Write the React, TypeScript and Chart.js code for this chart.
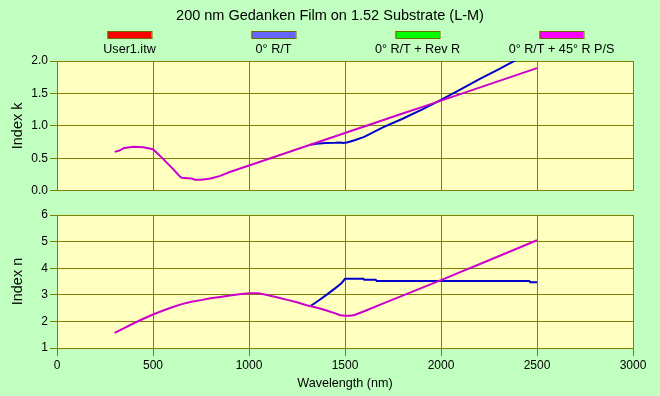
import React, { useEffect, useRef } from 'react';
import { Chart, registerables } from 'chart.js';
Chart.register(...registerables);

const TITLE = '200 nm Gedanken Film on 1.52 Substrate (L-M)';
const legendLabels = ['User1.itw', '0° R/T', '0° R/T + Rev R', '0° R/T + 45° R P/S'];
const legendColors = ['#FF0000', '#6666FF', '#00FF00', '#FF00FF'];
const lineColors = ['#CC0000', '#0000CC', '#00CC00', '#CC00CC'];

const xTicks = [0, 500, 1000, 1500, 2000, 2500, 3000];
const kTicks = [0, 0.5, 1.0, 1.5, 2.0];
const nTicks = [1, 2, 3, 4, 5, 6];

// Index k, fit "0° R/T + 45° R P/S"
const kFitWl = [300, 325, 350, 400, 450, 500, 550, 600, 640, 650, 700, 720, 750, 780, 800, 850, 900, 1000, 1100, 1200, 1300, 1400, 1500, 1600, 1700, 1800, 1900, 2000, 2100, 2200, 2300, 2400, 2500];
const kFitVal = [0.60, 0.62, 0.66, 0.68, 0.67, 0.64, 0.50, 0.35, 0.22, 0.20, 0.19, 0.17, 0.17, 0.18, 0.19, 0.23, 0.29, 0.39, 0.49, 0.59, 0.69, 0.79, 0.89, 0.99, 1.09, 1.19, 1.29, 1.39, 1.49, 1.59, 1.69, 1.79, 1.89];
// Index k, "0° R/T"
const kRtWl = [1320, 1350, 1400, 1450, 1475, 1490, 1510, 1550, 1600, 1700, 1800, 1900, 2000, 2100, 2200, 2300, 2400, 2500];
const kRtVal = [0.71, 0.725, 0.735, 0.74, 0.745, 0.735, 0.745, 0.78, 0.83, 0.98, 1.11, 1.25, 1.40, 1.56, 1.72, 1.87, 2.03, 2.19];

// Index n, fit "0° R/T + 45° R P/S"
const nFitWl = [300, 350, 400, 450, 500, 550, 600, 650, 700, 750, 800, 850, 900, 950, 1000, 1050, 1100, 1150, 1200, 1250, 1300, 1350, 1400, 1450, 1475, 1500, 1525, 1550, 1600, 1700, 1800, 1900, 2000, 2100, 2200, 2300, 2400, 2500];
const nFitVal = [1.57, 1.75, 1.93, 2.10, 2.26, 2.40, 2.53, 2.65, 2.74, 2.80, 2.87, 2.92, 2.97, 3.02, 3.06, 3.06, 2.98, 2.90, 2.81, 2.72, 2.61, 2.52, 2.42, 2.30, 2.23, 2.21, 2.21, 2.24, 2.38, 2.68, 2.97, 3.26, 3.55, 3.85, 4.15, 4.45, 4.75, 5.05];
// Index n, "0° R/T"
const nRtWl = [1320, 1350, 1400, 1450, 1480, 1500, 1550, 1595, 1600, 1660, 1665, 2460, 2465, 2500];
const nRtVal = [2.58, 2.72, 2.98, 3.25, 3.42, 3.60, 3.60, 3.60, 3.57, 3.57, 3.52, 3.52, 3.47, 3.47];

const FONT = 'Liberation Sans, Arial, sans-serif';
const OLIVE = '#808000';
const PLOT_BG = '#FFFFC0';
const PAGE_BG = '#C0FFC0';

const toPts = (xs: number[], ys: number[]) => xs.map((x, i) => ({ x, y: ys[i] }));

const plotBg = {
  id: 'plotBg',
  beforeDraw(chart: any) {
    const { ctx, chartArea: a } = chart;
    ctx.save();
    ctx.fillStyle = PLOT_BG;
    ctx.fillRect(a.left, a.top, a.right - a.left, a.bottom - a.top);
    ctx.restore();
  },
};

const headerPlugin = {
  id: 'header',
  afterDraw(chart: any) {
    const { ctx } = chart;
    ctx.save();
    ctx.fillStyle = '#000';
    ctx.textAlign = 'center';
    ctx.textBaseline = 'middle';
    ctx.font = `14.5px ${FONT}`;
    ctx.fillText(TITLE, 330, 16);
    ctx.font = `12.6px ${FONT}`;
    legendLabels.forEach((lab, i) => {
      const cx = 129.5 + 144 * i;
      ctx.fillStyle = legendColors[i];
      ctx.fillRect(cx - 22, 31, 44, 7);
      ctx.strokeStyle = '#6B6B00';
      ctx.lineWidth = 1;
      ctx.strokeRect(cx - 22 + 0.5, 31.5, 44, 7);
      ctx.fillStyle = '#000';
      ctx.fillText(lab, cx, 50);
    });
    ctx.restore();
  },
};

const lineDs = (label: string, data: any[], color: string) => ({
  label,
  data,
  borderColor: color,
  backgroundColor: color,
  borderWidth: 2,
  pointRadius: 0,
  fill: false,
  tension: 0,
});

const xScale = (showLabels: boolean) => ({
  type: 'linear',
  min: 0,
  max: 3000,
  afterBuildTicks: (s: any) => { s.ticks = xTicks.map((v) => ({ value: v })); },
  grid: { color: OLIVE, lineWidth: 1, tickColor: OLIVE, tickLength: 8, drawTicks: showLabels },
  border: { display: true, color: OLIVE },
  ticks: { display: showLabels, color: '#000', padding: 2, font: { size: 12, family: FONT }, maxRotation: 0, callback: (v: any) => String(v) },
  title: showLabels
    ? { display: true, text: 'Wavelength (nm)', color: '#000', font: { size: 12.6, family: FONT }, padding: { top: 0, bottom: 5 } }
    : { display: false },
  afterFit: (s: any) => { s.height = showLabels ? 48 : 0; },
});

const yScale = (title: string, min: number, max: number, ticks: number[], digits: number) => ({
  type: 'linear',
  min,
  max,
  afterBuildTicks: (s: any) => { s.ticks = ticks.map((v) => ({ value: v })); },
  grid: { color: OLIVE, lineWidth: 1, tickColor: OLIVE, tickLength: 7 },
  border: { display: true, color: OLIVE },
  ticks: { color: '#000', padding: 2, font: { size: 12, family: FONT }, callback: (v: any) => Number(v).toFixed(digits) },
  title: { display: true, text: title, color: '#000', font: { size: 14.5, family: FONT }, padding: { top: 9, bottom: 0 } },
  afterFit: (s: any) => { s.width = 57; },
});

export default function App() {
  const topRef = useRef<HTMLCanvasElement>(null);
  const botRef = useRef<HTMLCanvasElement>(null);

  useEffect(() => {
    Chart.defaults.font.family = FONT;
    const top = new Chart(topRef.current as HTMLCanvasElement, {
      type: 'line',
      data: {
        datasets: [
          lineDs(legendLabels[3], toPts(kFitWl, kFitVal), lineColors[3]),
          lineDs(legendLabels[1], toPts(kRtWl, kRtVal), lineColors[1]),
        ],
      },
      options: {
        animation: false,
        responsive: false,
        layout: { padding: { top: 61, bottom: 6, left: 0, right: 27 } },
        plugins: { legend: { display: false }, title: { display: false }, tooltip: { enabled: false } },
        scales: { x: xScale(false), y: yScale('Index k', 0, 2, kTicks, 1) },
      } as any,
      plugins: [plotBg, headerPlugin],
    });
    const bot = new Chart(botRef.current as HTMLCanvasElement, {
      type: 'line',
      data: {
        datasets: [
          lineDs(legendLabels[3], toPts(nFitWl, nFitVal), lineColors[3]),
          lineDs(legendLabels[1], toPts(nRtWl, nRtVal), lineColors[1]),
        ],
      },
      options: {
        animation: false,
        responsive: false,
        layout: { padding: { top: 15, bottom: 0, left: 0, right: 27 } },
        plugins: { legend: { display: false }, title: { display: false }, tooltip: { enabled: false } },
        scales: { x: xScale(true), y: yScale('Index n', 1, 6, nTicks, 0) },
      } as any,
      plugins: [plotBg],
    });
    return () => {
      top.destroy();
      bot.destroy();
    };
  }, []);

  return (
    <div style={{ position: 'absolute', left: 0, top: 0, width: 660, height: 396, background: PAGE_BG, overflow: 'hidden' }}>
      <canvas ref={topRef} width={660} height={200} style={{ position: 'absolute', left: 0, top: 0, width: 660, height: 200 }} />
      <canvas ref={botRef} width={660} height={196} style={{ position: 'absolute', left: 0, top: 200, width: 660, height: 196 }} />
    </div>
  );
}
